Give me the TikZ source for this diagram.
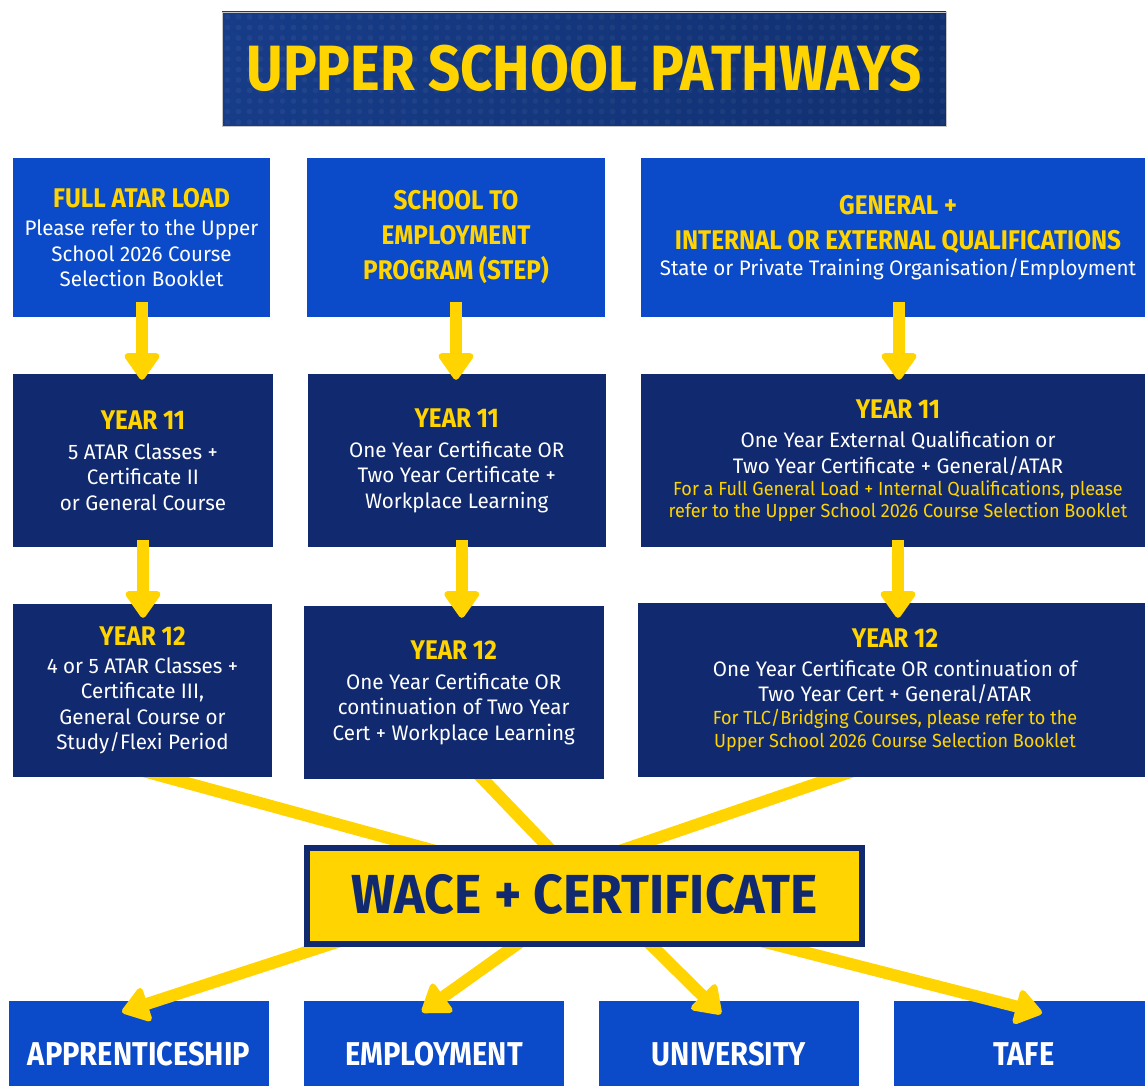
\documentclass[tikz,border=0pt]{standalone}
\usepackage{fontspec}
\setmainfont{Fira Sans}
\newfontfamily\bodyfont{Fira Sans}[FakeStretch=0.98]
\newfontfamily\notefont{Fira Sans}[FakeStretch=0.95]
\newfontfamily\headfont{Fira Sans}[FakeStretch=0.9]
\newfontfamily\titlefont{Fira Sans}[FakeStretch=0.88]
\newfontfamily\wacefont{Fira Sans}[FakeStretch=0.94]
\usetikzlibrary{arrows.meta,calc}
\definecolor{brightblue}{HTML}{0B4AC8}
\definecolor{navy}{HTML}{10296F}
\definecolor{gold}{HTML}{FFD400}
\definecolor{titleA}{HTML}{173C88}
\definecolor{titleB}{HTML}{0B2762}
\definecolor{titleC}{HTML}{113070}
\pgfdeclarelayer{bottomlayer}
\pgfdeclarelayer{linklayer}
\pgfsetlayers{bottomlayer,linklayer,main}
\newcommand\hd[1]{{\headfont\bfseries\color{gold}\fontsize{27}{32}\selectfont #1}}
\newcommand\yel[1]{{\notefont\color{gold}\fontsize{19}{22}\selectfont #1}}
\begin{document}
\begin{tikzpicture}[x=1pt,y=-1pt,
  box/.style={inner sep=0pt, align=center, text=white, font=\bodyfont\fontsize{21}{25.5}\selectfont},
  topbox/.style={box, fill=brightblue},
  yearbox/.style={box, fill=navy},
  endbox/.style={fill=brightblue, inner sep=0pt, minimum width=260pt, minimum height=107pt, text=white, font=\titlefont\bfseries\fontsize{33}{33}\selectfont},
  flow/.style={draw=gold, line width=12pt, -{Triangle[length=29pt,width=39pt,round,line width=6pt]}},
  link/.style={draw=gold, line width=12pt}
]
\useasboundingbox (0,0) rectangle (1145,1086);

% title
\node[inner sep=0pt, minimum width=724pt, minimum height=114pt, left color=titleA, middle color=titleB, right color=titleC,
      draw=gray!45, line width=0.8pt, text=gold, font=\titlefont\bfseries\fontsize{64}{64}\selectfont,
      path picture={\foreach \i in {0,...,65} \foreach \j in {0,...,10}
        {\fill[white, opacity=0.045] ($(path picture bounding box.north west)+(5.5+\i*11, 5+\j*10.5)$) circle (2.8pt);}}] (title) at (584,69)
      {\raisebox{3pt}{UPPER SCHOOL PATHWAYS}};

% row 1
\node[topbox, minimum width=257pt, minimum height=159pt] (a1) at (141.5,237.5)
  {\hd{FULL ATAR LOAD}\\[2.8pt]Please refer to the Upper\\School 2026 Course\\Selection Booklet};
\node[topbox, minimum width=298pt, minimum height=159pt, text=gold, font=\headfont\bfseries\fontsize{27}{35}\selectfont] (b1) at (456,237.5)
  {SCHOOL TO\\EMPLOYMENT\\PROGRAM (STEP)};
\node[topbox, minimum width=514pt, minimum height=159pt, text=gold, font=\headfont\bfseries\fontsize{27}{35}\selectfont] (c1) at (898,237.5)
  {GENERAL +\\INTERNAL OR EXTERNAL QUALIFICATIONS\\[-8.5pt]{\bodyfont\mdseries\color{white}\fontsize{21}{25}\selectfont State or Private Training Organisation/Employment}};

% row 2
\node[yearbox, minimum width=260pt, minimum height=173pt] (a2) at (143,460.5)
  {\hd{YEAR 11}\\[4.3pt]5 ATAR Classes +\\Certificate II\\or General Course};
\node[yearbox, minimum width=298.5pt, minimum height=173pt] (b2) at (456.75,460.5)
  {\hd{YEAR 11}\\[4.3pt]One Year Certificate OR\\Two Year Certificate +\\Workplace Learning};
\node[yearbox, minimum width=514pt, minimum height=173pt] (c2) at (898,460.5)
  {\hd{YEAR 11}\\[4.3pt]One Year External Qualification or\\Two Year Certificate + General/ATAR\\[-3.3pt]\yel{For a Full General Load + Internal Qualifications, please}\\[-3.5pt]\yel{refer to the Upper School 2026 Course Selection Booklet}};

% row 3
\node[yearbox, minimum width=259pt, minimum height=173pt] (a3) at (142.5,690.5)
  {\hd{YEAR 12}\\[2.3pt]4 or 5 ATAR Classes +\\Certificate III,\\General Course or\\Study/Flexi Period};
\node[yearbox, minimum width=299.5pt, minimum height=173pt] (b3) at (453.75,692.5)
  {\hd{YEAR 12}\\[4.3pt]One Year Certificate OR\\continuation of Two Year\\Cert + Workplace Learning};
\node[yearbox, minimum width=514pt, minimum height=174pt] (c3) at (895,690)
  {\hd{YEAR 12}\\[3.3pt]One Year Certificate OR continuation of\\Two Year Cert + General/ATAR\\[-3.3pt]\yel{For TLC/Bridging Courses, please refer to the}\\[-2.5pt]\yel{Upper School 2026 Course Selection Booklet}};

% WACE
\node[draw=navy, line width=6pt, fill=gold, minimum width=555pt, minimum height=96pt, inner sep=0pt, text=navy,
      font=\wacefont\bfseries\fontsize{55}{55}\selectfont] (w) at (584.5,896) {\raisebox{4pt}{WACE + CERTIFICATE}};

% destinations
\begin{pgfonlayer}{bottomlayer}
\node[endbox] (ap) at (139,1054.5) {APPRENTICESHIP};
\node[endbox] (em) at (434,1054.5) {EMPLOYMENT};
\node[endbox] (un) at (729,1054.5) {UNIVERSITY};
\node[endbox] (ta) at (1024,1054.5) {TAFE};
\end{pgfonlayer}

% vertical arrows
\draw[flow] ($(a1.south)+(0.5,-15)$) -- ($(a1.south |- a2.north)+(0.5,6)$);
\draw[flow] ($(b1.south)+(0,-15)$) -- ($(b1.south |- b2.north)+(0,6)$);
\draw[flow] ($(c1.south)+(1,-15)$) -- ($(c1.south |- c2.north)+(1,6)$);
\draw[flow] ($(a2.south)+(0,-7)$) -- ($(a2.south |- a3.north)+(0,14)$);
\draw[flow] ($(b2.south)+(5,-7)$) -- ($(b2.south |- b3.north)+(5,12)$);
\draw[flow] ($(c2.south)+(0,-7)$) -- ($(c2.south |- c3.north)+(0,15)$);

% links into WACE and out to destinations
\begin{pgfonlayer}{linklayer}
\draw[link] ($(a3.south west)+(80,-20)$) -- ($(w.center)+(-79.5,-26)$);
\draw[link] ($(b3.south west)+(161,-19)$) -- ($(w.center)+(-14.5,-26)$);
\draw[link] ($(c3.south west)+(253,-19)$) -- ($(w.center)+(-20.5,-26)$);
\draw[flow] ($(w.center)+(-210.5,34)$) -- ($(ap.center)+(-17,-42.5)$);
\draw[flow] ($(w.center)+(-47.5,34)$) -- ($(em.center)+(-12,-42.5)$);
\draw[flow] ($(w.center)+(51.5,34)$) -- ($(un.center)+(-8,-40.5)$);
\draw[flow] ($(w.center)+(133.5,34)$) -- ($(ta.center)+(18,-41.5)$);
\end{pgfonlayer}
\end{tikzpicture}
\end{document}
